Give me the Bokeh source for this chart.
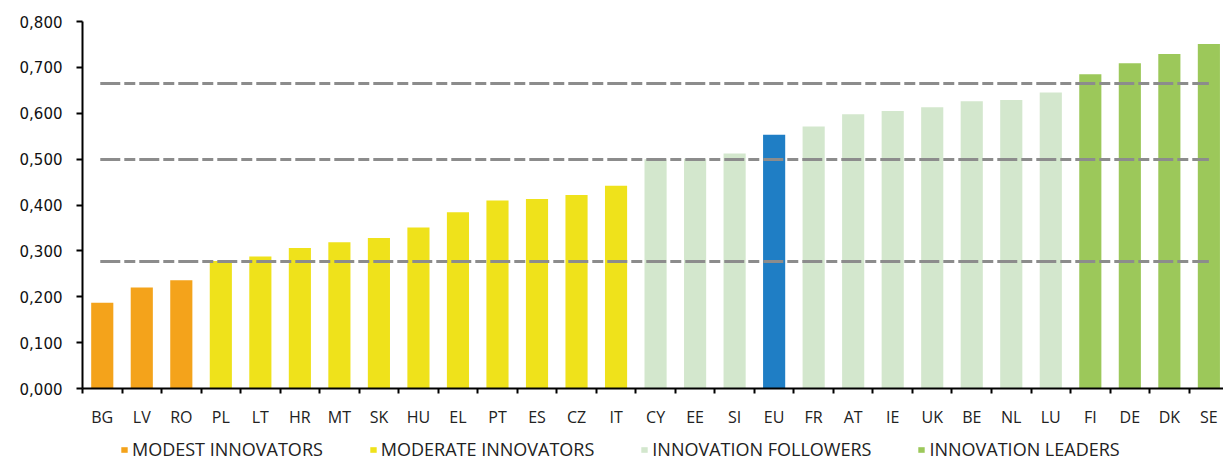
from bokeh.plotting import figure
from bokeh.layouts import column
from bokeh.models import (ColumnDataSource, FixedTicker, CustomJSTickFormatter,
                          Legend, LegendItem, Range1d)
from bokeh.embed import file_html
from bokeh.resources import INLINE

countries = ["BG", "LV", "RO", "PL", "LT", "HR", "MT", "SK", "HU", "EL", "PT", "ES",
             "CZ", "IT", "CY", "EE", "SI", "EU", "FR", "AT", "IE", "UK", "BE", "NL",
             "LU", "FI", "DE", "DK", "SE"]
scores = [0.187, 0.220, 0.236, 0.278, 0.288, 0.306, 0.319, 0.328, 0.351, 0.384,
          0.410, 0.413, 0.422, 0.442, 0.500, 0.501, 0.512, 0.553, 0.571, 0.598,
          0.605, 0.613, 0.626, 0.629, 0.645, 0.685, 0.709, 0.729, 0.751]
groups = (["modest"] * 3 + ["moderate"] * 11 + ["followers"] * 3 + ["eu"] +
          ["followers"] * 7 + ["leaders"] * 4)
thresholds = [0.277, 0.499, 0.665]

group_keys = ["modest", "moderate", "followers", "leaders", "eu"]
legend_keys = ["modest", "moderate", "followers", "leaders"]
group_labels = {"modest": "MODEST INNOVATORS", "moderate": "MODERATE INNOVATORS",
                "followers": "INNOVATION FOLLOWERS", "leaders": "INNOVATION LEADERS"}
group_colors = {"modest": "#F4A31B", "moderate": "#EFE21B", "followers": "#D3E7CD",
                "leaders": "#9CC85A", "eu": "#1F7EC5"}
y_ticks = [0.0, 0.1, 0.2, 0.3, 0.4, 0.5, 0.6, 0.7, 0.8]

n = len(countries)
xs = list(range(n))

p = figure(width=1223, height=436, output_backend="svg", toolbar_location=None,
           x_range=Range1d(-0.5, 28.37), y_range=Range1d(0, 0.8),
           min_border_left=82, min_border_top=21, min_border_right=0,
           min_border_bottom=48)
p.outline_line_color = None
p.xgrid.visible = False
p.ygrid.visible = False
p.background_fill_color = "white"
p.border_fill_color = "white"

renderers = {}
for g in group_keys:
    idx = [i for i in range(n) if groups[i] == g]
    src = ColumnDataSource(dict(x=[xs[i] for i in idx], top=[scores[i] for i in idx]))
    renderers[g] = p.vbar(x="x", top="top", bottom=0, width=0.56, source=src,
                          fill_color=group_colors[g], line_color=None)

for t in thresholds:
    p.line(x=[xs[0] - 0.05, xs[-1]], y=[t, t], line_color="#8C8C8C", line_width=3,
           line_dash="20 4 11 4")

# x axis: labels at centres, tick marks at category boundaries
p.xaxis.ticker = FixedTicker(ticks=xs, minor_ticks=[i - 0.5 for i in range(n + 1)])
p.xaxis.formatter = CustomJSTickFormatter(args=dict(labels=countries),
                                          code="return labels[Math.round(tick)];")
p.xaxis.major_tick_out = 0
p.xaxis.major_tick_in = 0
p.xaxis.minor_tick_out = 5
p.xaxis.minor_tick_in = 0
p.xaxis.minor_tick_line_color = "black"
p.xaxis.minor_tick_line_width = 2
p.xaxis.axis_line_color = "black"
p.xaxis.axis_line_width = 2
p.xaxis.major_label_standoff = 12
p.xaxis.major_label_text_font = "Open Sans"
p.xaxis.major_label_text_font_size = "16px"
p.xaxis.major_label_text_color = "#222222"

p.yaxis.ticker = FixedTicker(ticks=y_ticks, minor_ticks=[])
p.yaxis.formatter = CustomJSTickFormatter(code="return tick.toFixed(3).replace('.', ',');")
p.yaxis.major_tick_out = 6
p.yaxis.major_tick_in = 0
p.yaxis.major_tick_line_color = "black"
p.yaxis.major_tick_line_width = 2
p.yaxis.minor_tick_line_color = None
p.yaxis.axis_line_color = "black"
p.yaxis.axis_line_width = 2
p.yaxis.major_label_standoff = 14
p.yaxis.major_label_text_font = "DejaVu Sans"
p.yaxis.major_label_text_font_size = "15px"
p.yaxis.major_label_text_color = "#111111"

# legend strip below the chart (its frame is aligned with the chart frame)
lf = figure(width=1223, height=25, output_backend="svg", toolbar_location=None,
            x_axis_type=None, y_axis_type=None, x_range=Range1d(0, 1), y_range=Range1d(0, 1),
            min_border_left=0, min_border_right=0, min_border_top=0, min_border_bottom=0)
lf.outline_line_color = None
lf.xgrid.visible = False
lf.ygrid.visible = False
leg_items = []
for g in legend_keys:
    r = lf.vbar(x=[-10], top=[-1], bottom=-2, width=0.1,
                fill_color=group_colors[g], line_color=None)
    leg_items.append(LegendItem(label=group_labels[g], renderers=[r]))
legend = Legend(items=leg_items, orientation="horizontal", location=(38, 0),
                glyph_width=8, glyph_height=7, label_standoff=4, spacing=46,
                padding=0, margin=0, border_line_color=None, background_fill_alpha=0,
                label_text_font="Open Sans", label_text_font_size="18px",
                label_text_color="#222222", label_height=20)
lf.add_layout(legend, "center")

layout = column(p, lf, spacing=0)
open("out.html", "w").write(file_html(layout, INLINE))
